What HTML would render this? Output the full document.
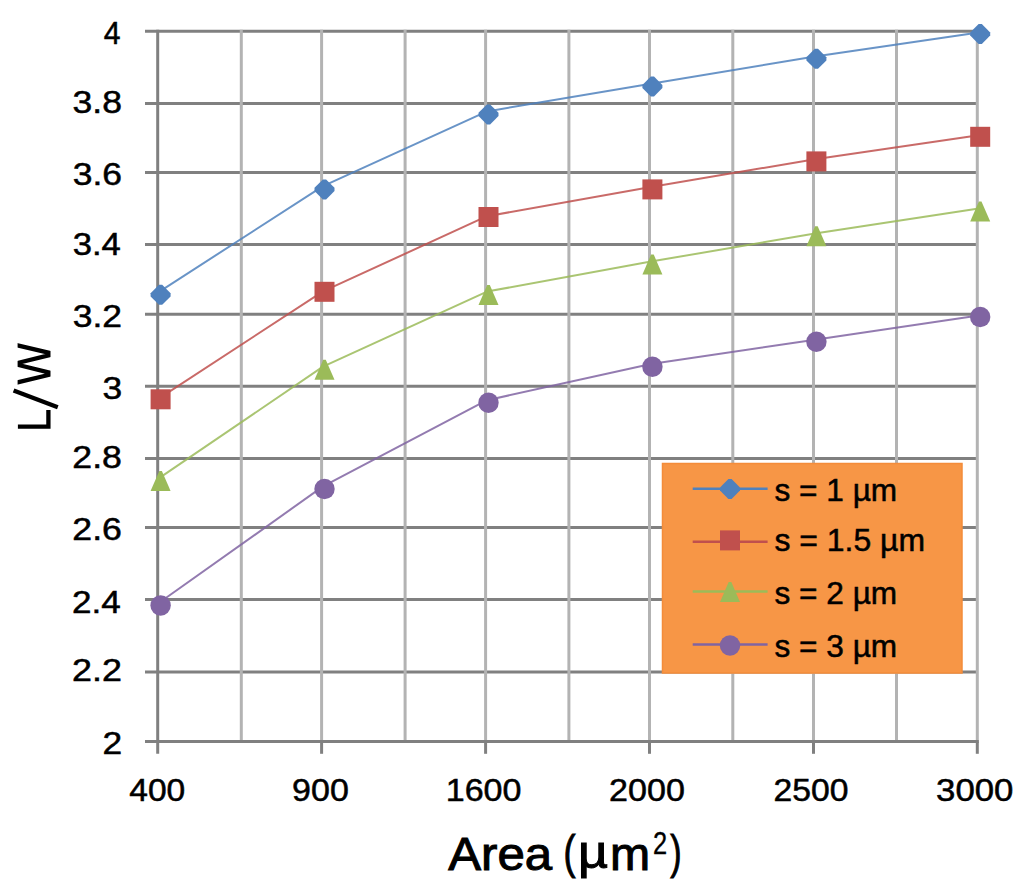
<!DOCTYPE html>
<html><head><meta charset="utf-8"><title>L/W vs Area</title>
<style>
html,body{margin:0;padding:0;background:#fff;}
body{width:1024px;height:887px;overflow:hidden;}
svg{display:block;}
text{font-family:"Liberation Sans",sans-serif;fill:#000;}
</style></head><body>
<svg width="1024" height="887" viewBox="0 0 1024 887">
<rect width="1024" height="887" fill="#fff"/>
<g stroke="#808080" stroke-width="3.0">
<line x1="145" y1="31.2" x2="977.3" y2="31.2"/>
<line x1="145" y1="103.5" x2="977.3" y2="103.5"/>
<line x1="145" y1="172.5" x2="977.3" y2="172.5"/>
<line x1="145" y1="244.5" x2="977.3" y2="244.5"/>
<line x1="145" y1="314.3" x2="977.3" y2="314.3"/>
<line x1="145" y1="386.3" x2="977.3" y2="386.3"/>
<line x1="145" y1="458.4" x2="977.3" y2="458.4"/>
<line x1="145" y1="527.5" x2="977.3" y2="527.5"/>
<line x1="145" y1="599.6" x2="977.3" y2="599.6"/>
<line x1="145" y1="672.0" x2="977.3" y2="672.0"/>
</g>
<g stroke="#b3b3b3" stroke-width="3.0">
<line x1="241.3" y1="29.7" x2="241.3" y2="741.5"/>
<line x1="321.6" y1="29.7" x2="321.6" y2="741.5"/>
<line x1="405.1" y1="29.7" x2="405.1" y2="741.5"/>
<line x1="485.6" y1="29.7" x2="485.6" y2="741.5"/>
<line x1="568.9" y1="29.7" x2="568.9" y2="741.5"/>
<line x1="649.5" y1="29.7" x2="649.5" y2="741.5"/>
<line x1="732.8" y1="29.7" x2="732.8" y2="741.5"/>
<line x1="813.5" y1="29.7" x2="813.5" y2="741.5"/>
<line x1="896.5" y1="29.7" x2="896.5" y2="741.5"/>
<line x1="977.3" y1="29.7" x2="977.3" y2="741.5"/>
</g>
<g stroke="#808080" stroke-width="3.0">
<line x1="145" y1="741.5" x2="978.8" y2="741.5"/>
<line x1="157.7" y1="29.7" x2="157.7" y2="753.8"/>
<line x1="321.6" y1="741.5" x2="321.6" y2="753.8"/>
<line x1="485.6" y1="741.5" x2="485.6" y2="753.8"/>
<line x1="649.5" y1="741.5" x2="649.5" y2="753.8"/>
<line x1="813.5" y1="741.5" x2="813.5" y2="753.8"/>
<line x1="977.3" y1="741.5" x2="977.3" y2="753.8"/>
</g>
<polyline points="159.1,291.8 323.0,186.2 487.0,111.4 650.9,83.7 814.9,56.6 978.7,32.5" fill="none" stroke="#4F81BD" stroke-width="2.0" stroke-opacity="0.85" stroke-linejoin="round"/>
<polyline points="159.1,398.3 323.0,291.4 487.0,216.2 650.9,187.1 814.9,159.2 978.7,135.3" fill="none" stroke="#C0504D" stroke-width="2.0" stroke-opacity="0.85" stroke-linejoin="round"/>
<polyline points="159.1,478.2 323.0,366.7 487.0,291.6 650.9,261.6 814.9,233.4 978.7,208.4" fill="none" stroke="#9BBB59" stroke-width="2.0" stroke-opacity="0.85" stroke-linejoin="round"/>
<polyline points="159.1,602.8 323.0,486.4 487.0,400.2 650.9,363.9 814.9,339.7 978.7,315.6" fill="none" stroke="#8064A2" stroke-width="2.0" stroke-opacity="0.85" stroke-linejoin="round"/>
<path d="M159.0 284.8L162.2 284.8L170.6 293.2L170.6 296.4L162.2 304.8L159.0 304.8L150.6 296.4L150.6 293.2Z" fill="#4F81BD"/>
<path d="M322.9 179.4L326.1 179.4L334.5 187.8L334.5 191.0L326.1 199.4L322.9 199.4L314.5 191.0L314.5 187.8Z" fill="#4F81BD"/>
<path d="M486.9 104.4L490.1 104.4L498.5 112.8L498.5 116.0L490.1 124.4L486.9 124.4L478.5 116.0L478.5 112.8Z" fill="#4F81BD"/>
<path d="M650.8 76.5L654.0 76.5L662.4 84.9L662.4 88.1L654.0 96.5L650.8 96.5L642.4 88.1L642.4 84.9Z" fill="#4F81BD"/>
<path d="M814.8 48.8L818.0 48.8L826.4 57.2L826.4 60.4L818.0 68.8L814.8 68.8L806.4 60.4L806.4 57.2Z" fill="#4F81BD"/>
<path d="M978.6 24.0L981.8 24.0L990.2 32.4L990.2 35.6L981.8 44.0L978.6 44.0L970.2 35.6L970.2 32.4Z" fill="#4F81BD"/>
<rect x="150.6" y="389.3" width="20.0" height="20.0" fill="#C0504D"/>
<rect x="314.5" y="281.8" width="20.0" height="20.0" fill="#C0504D"/>
<rect x="478.5" y="207.0" width="20.0" height="20.0" fill="#C0504D"/>
<rect x="642.4" y="179.4" width="20.0" height="20.0" fill="#C0504D"/>
<rect x="806.4" y="151.4" width="20.0" height="20.0" fill="#C0504D"/>
<rect x="970.2" y="126.8" width="20.0" height="20.0" fill="#C0504D"/>
<path d="M159.3 471.0L161.9 471.0L170.6 491.0L150.6 491.0Z" fill="#9BBB59"/>
<path d="M323.2 359.8L325.8 359.8L334.5 379.8L314.5 379.8Z" fill="#9BBB59"/>
<path d="M487.2 285.0L489.8 285.0L498.5 305.0L478.5 305.0Z" fill="#9BBB59"/>
<path d="M651.1 254.5L653.7 254.5L662.4 274.5L642.4 274.5Z" fill="#9BBB59"/>
<path d="M815.1 226.3L817.7 226.3L826.4 246.3L806.4 246.3Z" fill="#9BBB59"/>
<path d="M978.9 201.6L981.5 201.6L990.2 221.6L970.2 221.6Z" fill="#9BBB59"/>
<circle cx="160.6" cy="605.5" r="10.2" fill="#8064A2"/>
<circle cx="324.5" cy="489.0" r="10.2" fill="#8064A2"/>
<circle cx="488.5" cy="402.8" r="10.2" fill="#8064A2"/>
<circle cx="652.4" cy="366.7" r="10.2" fill="#8064A2"/>
<circle cx="816.4" cy="341.8" r="10.2" fill="#8064A2"/>
<circle cx="980.2" cy="317.0" r="10.2" fill="#8064A2"/>
<text transform="matrix(0.9735 0 0 1 103.75 43.70)" font-size="31" stroke="#000" stroke-width="0.5">4</text>
<text transform="matrix(1.1463 0 0 1 72.55 112.70)" font-size="31" stroke="#000" stroke-width="0.5">3.8</text>
<text transform="matrix(1.1439 0 0 1 72.66 184.90)" font-size="31" stroke="#000" stroke-width="0.5">3.6</text>
<text transform="matrix(1.1167 0 0 1 72.68 254.50)" font-size="31" stroke="#000" stroke-width="0.5">3.4</text>
<text transform="matrix(1.1439 0 0 1 72.66 326.50)" font-size="31" stroke="#000" stroke-width="0.5">3.2</text>
<text transform="matrix(1.1400 0 0 1 102.46 398.80)" font-size="31" stroke="#000" stroke-width="0.5">3</text>
<text transform="matrix(1.1512 0 0 1 72.35 468.40)" font-size="31" stroke="#000" stroke-width="0.5">2.8</text>
<text transform="matrix(1.1512 0 0 1 72.35 540.40)" font-size="31" stroke="#000" stroke-width="0.5">2.6</text>
<text transform="matrix(1.1310 0 0 1 72.07 612.50)" font-size="31" stroke="#000" stroke-width="0.5">2.4</text>
<text transform="matrix(1.1585 0 0 1 72.04 681.40)" font-size="31" stroke="#000" stroke-width="0.5">2.2</text>
<text transform="matrix(1.1400 0 0 1 102.46 754.00)" font-size="31" stroke="#000" stroke-width="0.5">2</text>
<text transform="matrix(1.0824 0 0 1 129.30 800.60)" font-size="31" stroke="#000" stroke-width="0.5">400</text>
<text transform="matrix(1.0960 0 0 1 292.10 800.60)" font-size="31" stroke="#000" stroke-width="0.5">900</text>
<text transform="matrix(1.0985 0 0 1 445.70 800.60)" font-size="31" stroke="#000" stroke-width="0.5">1600</text>
<text transform="matrix(1.0985 0 0 1 609.10 800.60)" font-size="31" stroke="#000" stroke-width="0.5">2000</text>
<text transform="matrix(1.0881 0 0 1 773.51 800.60)" font-size="31" stroke="#000" stroke-width="0.5">2500</text>
<text transform="matrix(1.1224 0 0 1 936.08 800.60)" font-size="31" stroke="#000" stroke-width="0.5">3000</text>
<rect x="662.5" y="463.5" width="299.5" height="209.5" fill="#F79646" stroke="#F48C3A" stroke-width="1.5"/>
<line x1="692.7" y1="488.8" x2="767.6" y2="488.8" stroke="#4F81BD" stroke-width="2.5"/>
<path d="M728.4 479.0L731.6 479.0L740.0 487.4L740.0 490.6L731.6 499.0L728.4 499.0L720.0 490.6L720.0 487.4Z" fill="#4F81BD"/>
<text transform="matrix(1.0195 0 0 1 774.48 501.40)" font-size="31" stroke="#000" stroke-width="0.5">s = 1 µm</text>
<line x1="692.7" y1="541.7" x2="767.6" y2="541.7" stroke="#C0504D" stroke-width="2.5"/>
<rect x="720.0" y="530.4" width="20.0" height="20.0" fill="#C0504D"/>
<text transform="matrix(1.0306 0 0 1 774.47 550.80)" font-size="31" stroke="#000" stroke-width="0.5">s = 1.5 µm</text>
<line x1="692.7" y1="591.6" x2="767.6" y2="591.6" stroke="#9BBB59" stroke-width="2.5"/>
<path d="M728.7 582.1L731.3 582.1L740.0 602.1L720.0 602.1Z" fill="#9BBB59"/>
<text transform="matrix(1.0195 0 0 1 774.48 604.10)" font-size="31" stroke="#000" stroke-width="0.5">s = 2 µm</text>
<line x1="692.7" y1="644.5" x2="767.6" y2="644.5" stroke="#8064A2" stroke-width="2.5"/>
<circle cx="730.0" cy="645.5" r="10.2" fill="#8064A2"/>
<text transform="matrix(1.0195 0 0 1 774.48 656.90)" font-size="31" stroke="#000" stroke-width="0.5">s = 3 µm</text>
<defs><clipPath id="wc"><rect x="17.6" y="330" width="32.9" height="58"/></clipPath></defs>
<g fill="none" stroke="#000" stroke-width="4.3" stroke-linejoin="miter" stroke-miterlimit="10">
<polyline clip-path="url(#wc)" points="14,344.6 54,354.0 14,363.9 54,373.7 14,383.2"/>
<line x1="13.6" y1="390.4" x2="57.8" y2="407.3"/>
<polyline points="17.9,426.6 48.4,426.6 48.4,410.1"/>
</g>
<text transform="matrix(1.0704 0 0 1 448.20 870.10)" font-size="46" stroke="#000" stroke-width="1.0">Area</text>
<text transform="matrix(0.7857 0 0 1 563.43 868.40)" font-size="46" stroke="#000" stroke-width="1.0">(</text>
<text transform="matrix(1.1304 0 0 1 578.01 868.30)" font-size="46" stroke="#000" stroke-width="1.0">µ</text>
<text transform="matrix(1.0471 0 0 1 610.11 870.10)" font-size="46" stroke="#000" stroke-width="1.0">m</text>
<text transform="matrix(0.8200 0 0 1 653.08 853.70)" font-size="31" stroke="#000" stroke-width="0.4">2</text>
<text transform="matrix(0.7385 0 0 1 670.30 868.40)" font-size="46" stroke="#000" stroke-width="1.0">)</text>
</svg>
</body></html>
